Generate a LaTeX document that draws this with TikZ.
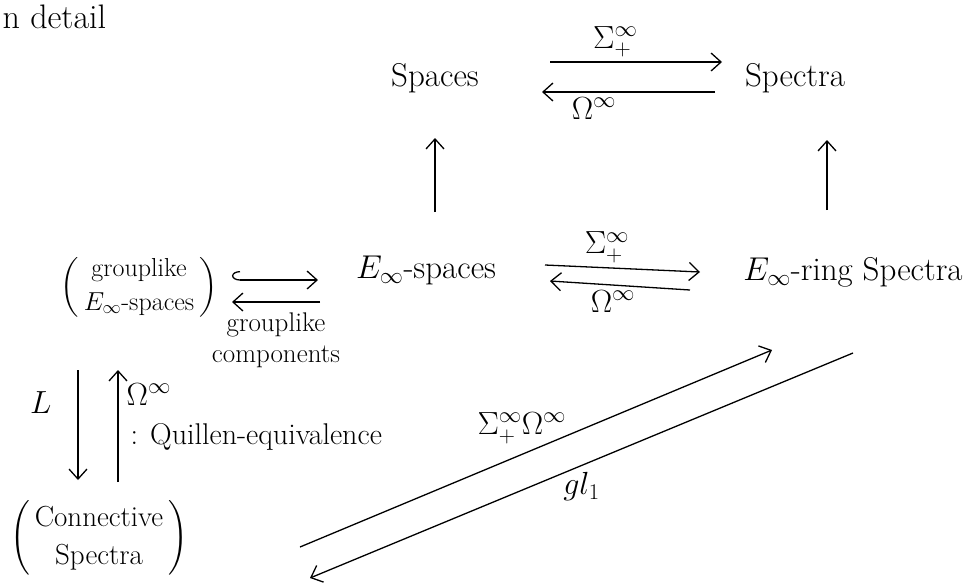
\RequirePackage{fix-cm}
\documentclass[tikz,border=0pt]{standalone}
\usepackage{amsmath}
\usepackage{fontspec}
\usepackage{tikz}
\usetikzlibrary{arrows.meta}

\begin{document}
\begin{tikzpicture}[
  x=1pt, y=-1pt,
  line width=1.3pt,
  obj/.style={inner sep=2pt, font=\fontsize{33}{38}\selectfont},
  note/.style={inner sep=2pt, align=center, font=\fontsize{27}{31}\selectfont},
  lbl/.style={inner sep=2pt, font=\fontsize{32}{36}\selectfont},
  map/.style={-{Straight Barb[length=10pt,width=18pt]}}
]
\useasboundingbox (0,0) rectangle (968,587);
% objects
\node[note, anchor=west, font=\fontsize{34}{38}\selectfont] (detail) at (0,17) {n detail};
\node[obj] (spaces)  at (435,78)  {Spaces};
\node[obj] (spectra) at (795,78)  {Spectra};
\node[note, font=\fontsize{26}{30}\selectfont] (gsp) at (139,287)
  {$\left(\begin{array}{c}\text{grouplike}\\[4pt] E_\infty\text{-spaces}\end{array}\right)$};
\node[obj] (einf)  at (426,270) {$E_\infty$-spaces};
\node[obj] (ering) at (853,272) {$E_\infty$-ring Spectra};
\node[note, font=\fontsize{29}{36}\selectfont] (conn) at (99,538)
  {$\left(\begin{array}{c}\text{Connective}\\[2pt] \text{Spectra}\end{array}\right)$};

% top row
\draw[map] ([xshift=115pt,yshift=16pt]spaces.center) -- node[lbl, above=2pt, pos=0.38] {$\Sigma^\infty_+$}
      ([xshift=-73pt,yshift=16pt]spectra.center);
\draw[map] ([xshift=-80pt,yshift=-14pt]spectra.center) -- node[lbl, below=3pt, pos=0.7] {$\Omega^\infty$}
      ([xshift=107pt,yshift=-14pt]spaces.center);
% vertical maps
\draw[map] ([xshift=9pt,yshift=58pt]einf.center) -- ([yshift=-60pt]spaces.center);
\draw[map] ([xshift=-26pt,yshift=62pt]ering.center) -- ([xshift=32pt,yshift=-62pt]spectra.center);
% middle row
\draw[{Hooks[arc=180,right,length=8pt,width=18pt]}-{Straight Barb[length=10pt,width=18pt]}]
      ([xshift=93pt,yshift=7pt]gsp.center) -- ([xshift=-108pt,yshift=-10pt]einf.center);
\draw[map] ([xshift=-106pt,yshift=-32pt]einf.center) -- node[note, below=8pt] {grouplike\\components}
      ([xshift=93pt,yshift=-15pt]gsp.center);
\draw[map] ([xshift=119pt,yshift=5pt]einf.center) -- node[lbl, above=2pt, pos=0.4] {$\Sigma^\infty_+$}
      ([xshift=-153pt]ering.center);
\draw[map] ([xshift=-163pt,yshift=-18pt]ering.center) -- node[lbl, below=3pt, pos=0.55] {$\Omega^\infty$}
      ([xshift=124pt,yshift=-11pt]einf.center);
% left column
\draw[map] ([xshift=-61pt,yshift=-83pt]gsp.center) -- node[lbl, left=24pt, pos=0.3] {$L$}
      ([xshift=-21pt,yshift=58pt]conn.center);
\draw[map] ([xshift=19pt,yshift=56pt]conn.center) --
      node[lbl, right=6pt, pos=0.78] {$\Omega^\infty$}
      node[note, font=\fontsize{30}{34}\selectfont, right=10pt, pos=0.4] {: Quillen-equivalence}
      ([xshift=-21pt,yshift=-83pt]gsp.center);
% diagonal
\draw[map] ([xshift=201pt,yshift=-9pt]conn.center) -- node[lbl, above=8pt, pos=0.47] {$\Sigma^\infty_+\Omega^\infty$}
      ([xshift=-81pt,yshift=-78pt]ering.center);
\draw[map] ([xshift=0pt,yshift=-81pt]ering.center) -- node[lbl, below=4pt] {$gl_1$}
      ([xshift=211pt,yshift=-40pt]conn.center);
\end{tikzpicture}
\end{document}
